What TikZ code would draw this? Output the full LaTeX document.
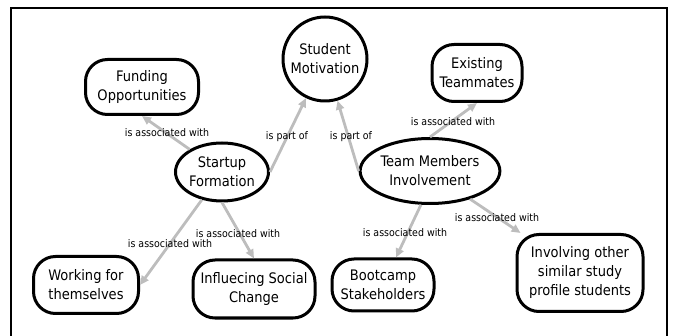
\documentclass[tikz,border=0pt]{standalone}
\usepackage{fontspec}
\setmainfont{DejaVu Sans Condensed}
\usepackage{tikz}
\usetikzlibrary{arrows.meta, shapes.geometric}
\definecolor{mapInk}{HTML}{000000}
\definecolor{mapLink}{HTML}{BDBDBD}

\begin{document}
\begin{tikzpicture}[
  x=1pt, y=-1pt,
  >={Triangle[length=9pt, width=8pt]},
  concept/.style={draw=mapInk, line width=3pt, rounded corners=22pt, align=center,
                  font=\fontsize{14.5}{19}\selectfont, inner sep=0pt},
  hub/.style={draw=mapInk, line width=3pt, ellipse, align=center,
              font=\fontsize{14.5}{19}\selectfont, inner sep=0pt},
  root/.style={draw=mapInk, line width=3pt, circle, align=center,
               font=\fontsize{14.5}{19}\selectfont, inner sep=0pt, minimum size=84pt},
  lbl/.style={font=\fontsize{10.5}{12}\selectfont, inner sep=0pt},
  line/.style={->, line width=2.8pt, draw=mapLink, color=mapLink}
]
\useasboundingbox (0,0) rectangle (674,336);
\draw[line width=2pt, draw=mapInk] (11,8) rectangle (667,345);

% concepts
\node[root] (motiv) at (325,59) {Student\\Motivation};
\node[hub, minimum width=93pt, minimum height=58pt] (startup) at (222,172) {Startup\\Formation};
\node[hub, minimum width=120pt, minimum height=65pt] (team) at (430,171) {Team Members\\Involvement};
\node[concept, minimum width=113pt, minimum height=55pt] (funding) at (142,87) {Funding\\Opportunities};
\node[concept, minimum width=90pt, minimum height=57pt] (existing) at (477,73) {Existing\\Teammates};
\node[concept, minimum width=105pt, minimum height=57pt] (working) at (86,285) {Working for\\themselves};
\node[concept, minimum width=122pt, minimum height=58pt] (social) at (254,289) {Influecing Social\\Change};
\node[concept, minimum width=102pt, minimum height=52pt] (bootcamp) at (383,285) {Bootcamp\\Stakeholders};
\node[concept, minimum width=126pt, minimum height=77pt] (involving) at (580,273) {Involving other\\similar study\\profile students};

% links
\draw[line] (startup) -- (funding.south);
\draw[line] (startup.east) -- (motiv);
\draw[line] (team.west) -- (motiv);
\draw[line] (team.north) -- (existing.south);
\draw[line] (startup) -- (working.east);
\draw[line] (startup.south) -- (social.north);
\draw[line] (team.255) -- (bootcamp);
\draw[line] (team.-35) -- (involving);

% link phrases
\node[lbl] (l1) at (167,133) {is associated with};
\node[lbl] (l2) at (287,137) {is part of};
\node[lbl] (l3) at (351,137) {is part of};
\node[lbl] (l4) at (453,122) {is associated with};
\node[lbl] (l5) at (170,244) {is associated with};
\node[lbl] (l6) at (238,234) {is associated with};
\node[lbl] (l7) at (405,233) {is associated with};
\node[lbl] (l8) at (497,218) {is associated with};
\end{tikzpicture}
\end{document}
